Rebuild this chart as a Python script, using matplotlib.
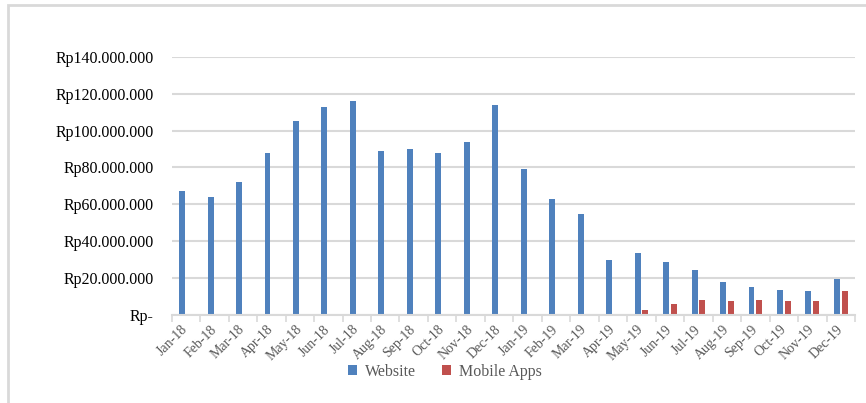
import matplotlib.pyplot as plt
from matplotlib.patches import Rectangle
from matplotlib.ticker import FuncFormatter, MultipleLocator
import numpy as np

months = ["Jan-18", "Feb-18", "Mar-18", "Apr-18", "May-18", "Jun-18",
          "Jul-18", "Aug-18", "Sep-18", "Oct-18", "Nov-18", "Dec-18",
          "Jan-19", "Feb-19", "Mar-19", "Apr-19", "May-19", "Jun-19",
          "Jul-19", "Aug-19", "Sep-19", "Oct-19", "Nov-19", "Dec-19"]

# values in millions of rupiah
website = [67, 64, 72, 88, 105, 113, 116, 89, 90, 88, 94, 114,
           79, 63, 55, 29.7, 33.8, 28.6, 24.5, 18, 15.3, 13.7, 13, 19.5]
mobile_apps = [0, 0, 0, 0, 0, 0, 0, 0, 0, 0, 0, 0,
               0, 0, 0, 0, 2.7, 5.7, 7.9, 7.6, 8.1, 7.8, 7.6, 13]

BLUE = "#4f81bd"
RED = "#c0504d"
GRID = "#d9d9d9"
TEXT_GREY = "#595959"

plt.rcParams['font.family'] = ['Liberation Serif', 'DejaVu Serif']

fig = plt.figure(figsize=(8.66, 4.03), dpi=100)
ax = fig.add_axes([171.7 / 866, 1 - 315 / 403, (855 - 171.7) / 866, (315 - 56.7) / 403])

x = np.arange(len(months))
w = 0.21
ax.bar(x - 0.135, np.array(website) * 1e6, width=w, color=BLUE, label="Website", zorder=3)
ax.bar(x + 0.135, np.array(mobile_apps) * 1e6, width=w, color=RED, label="Mobile Apps", zorder=3)

ax.set_xlim(-0.5, len(months) - 0.5)
ax.set_ylim(0, 140e6)

# y axis
ax.yaxis.set_major_locator(MultipleLocator(20e6))

def rp(v, pos):
    if v == 0:
        return "Rp-"
    return "Rp" + f"{int(v):,}".replace(",", ".")

ax.yaxis.set_major_formatter(FuncFormatter(rp))
ax.tick_params(axis='y', length=0, pad=13, labelsize=11.5, labelcolor="black")
ax.grid(True, axis='y', color=GRID, linewidth=1.5, zorder=0)

# x axis: labels at centres, tick marks at boundaries
ax.set_xticks(x)
ax.set_xticklabels(months, rotation=45, ha='right', va='center', rotation_mode='anchor')
ax.tick_params(axis='x', which='major', length=0, pad=9, labelsize=10, labelcolor=TEXT_GREY)
ax.set_xticks(np.arange(-0.5, len(months)), minor=True)
ax.tick_params(axis='x', which='minor', length=5, width=1.2, color=GRID)

for s in ['top', 'right', 'left']:
    ax.spines[s].set_visible(False)
ax.spines['bottom'].set_color(GRID)
ax.spines['bottom'].set_linewidth(1.5)
ax.spines['bottom'].set_zorder(4)

leg = fig.legend(loc='center', bbox_to_anchor=(445 / 866, 1 - 372 / 403), ncol=2,
                 frameon=False, fontsize=11.5, handlelength=0.6, handleheight=0.6,
                 handletextpad=0.5, columnspacing=1.6)
for t in leg.get_texts():
    t.set_color(TEXT_GREY)

# outer chart border (only top and left visible in the crop)
fig.patches.append(Rectangle((8 / 866, -0.1), 1.2, 1 - 5 / 403 + 0.1, transform=fig.transFigure,
                             fill=False, edgecolor=GRID, linewidth=2))

plt.savefig("out.png", dpi=100)
plt.close()
